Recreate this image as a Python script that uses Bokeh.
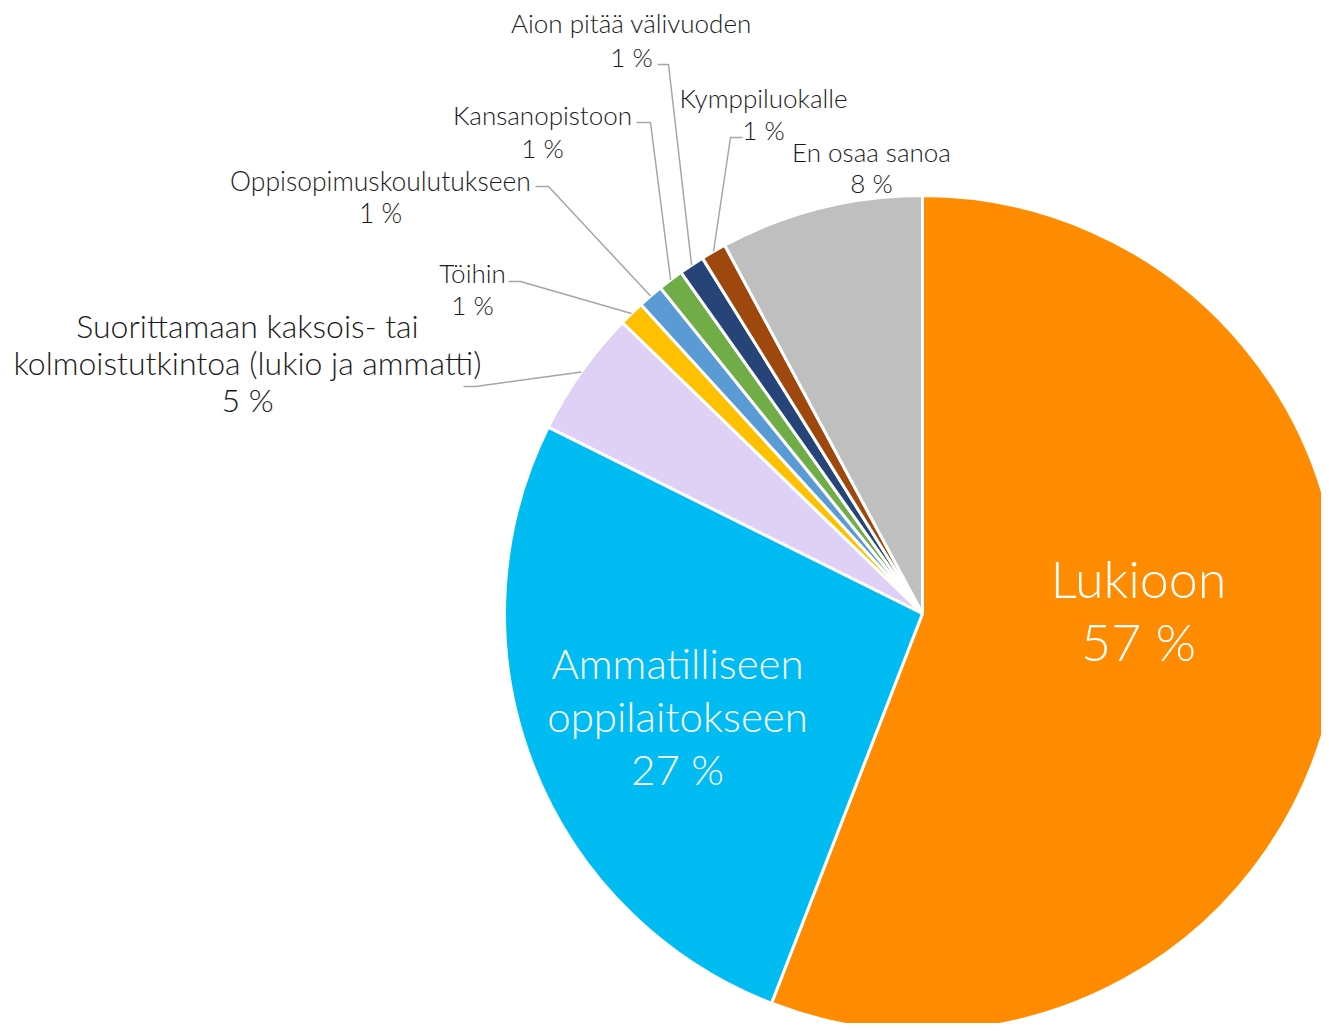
import math
from bokeh.plotting import figure
from bokeh.models import Range1d, ColumnDataSource
from bokeh.core.properties import value
from bokeh.embed import file_html
from bokeh.resources import INLINE

# ---- data ----
categories = [
    "Lukioon",
    "Ammatilliseen\noppilaitokseen",
    "Suorittamaan kaksois- tai\nkolmoistutkintoa (lukio ja ammatti)",
    "Töihin",
    "Oppisopimuskoulutukseen",
    "Kansanopistoon",
    "Aion pitää välivuoden",
    "Kymppiluokalle",
    "En osaa sanoa",
]
values = [57, 27, 5, 1, 1, 1, 1, 1, 8]
colors = ["#FF8C00", "#00BCF2", "#DFD0F5", "#FFC000", "#5B9BD5",
          "#70AD47", "#264478", "#9E480E", "#BFBFBF"]

# ---- layout (screen pixel coords; data y = 1031 - screen y) ----
W, H = 1321, 1023
def sy(s):
    return 1031 - s

CX, CY, R = 922, sy(613), 418
FONT = "Lato Light, Lato"

# label anchor (center x, first line screen y), line spacing, font size, color
label_pos = [
    (1138, 577, 63, "52px", "white"),
    (677, 662, 53, "42px", "white"),
    (247, 325, 37, "32px", "#1a1a1a"),
    (472, 272, 32, "26px", "#1a1a1a"),
    (380, 180, 32, "26.5px", "#1a1a1a"),
    (542, 114, 33, "26px", "#1a1a1a"),
    (631, 22, 34, "26px", "#1a1a1a"),
    (763, 97, 32, "26px", "#1a1a1a"),
    (871, 151, 31, "26px", "#1a1a1a"),
]
# leader start (near label) and elbow, screen coords; None = no leader
leader_pts = [None, None,
              ((463, 386), (475, 386)),
              ((508, 281), (520, 281)),
              ((535, 186), (548, 186)),
              ((636, 122), (650, 122)),
              ((657, 64), (668, 64)),
              ((742, 137), (730, 137)),
              None]

p = figure(width=W, height=H, output_backend="svg", toolbar_location=None,
           x_range=Range1d(0, W), y_range=Range1d(1031 - H, 1031),
           min_border=0)
p.axis.visible = False
p.grid.visible = False
p.outline_line_color = None
p.background_fill_color = "white"

total = sum(values)
starts, ends, mids = [], [], []
cum = 0.0
for v in values:
    f0 = cum / total
    cum += v
    f1 = cum / total
    starts.append(math.pi / 2 - 2 * math.pi * f0)
    ends.append(math.pi / 2 - 2 * math.pi * f1)
    mids.append((f0 + f1) / 2)

src = ColumnDataSource(dict(start=starts, end=ends, color=colors))
p.wedge(x=CX, y=CY, radius=R, start_angle="start", end_angle="end",
        direction="clock", fill_color="color", line_color="white",
        line_width=3, source=src)

# leader lines
xs, ys = [], []
for i, lp in enumerate(leader_pts):
    if lp is None:
        continue
    a = 2 * math.pi * mids[i]
    ex = CX + R * math.sin(a)
    ey = CY + R * math.cos(a)
    (x0, y0), (x1, y1) = lp
    xs.append([x0, x1, ex])
    ys.append([sy(y0), sy(y1), ey])
p.multi_line(xs=xs, ys=ys, line_color="#A6A6A6", line_width=1.5)

# labels
for i, cat in enumerate(categories):
    lx, ly, step, fs, col = label_pos[i]
    lines = cat.split("\n") + [f"{values[i]} %"]
    tx = [lx] * len(lines)
    ty = [sy(ly + k * step) for k in range(len(lines))]
    p.text(x=tx, y=ty, text=lines, text_align="center",
           text_baseline="middle", text_font=value(FONT),
           text_font_size=fs, text_color=col)

open("out.html", "w").write(file_html(p, INLINE))
